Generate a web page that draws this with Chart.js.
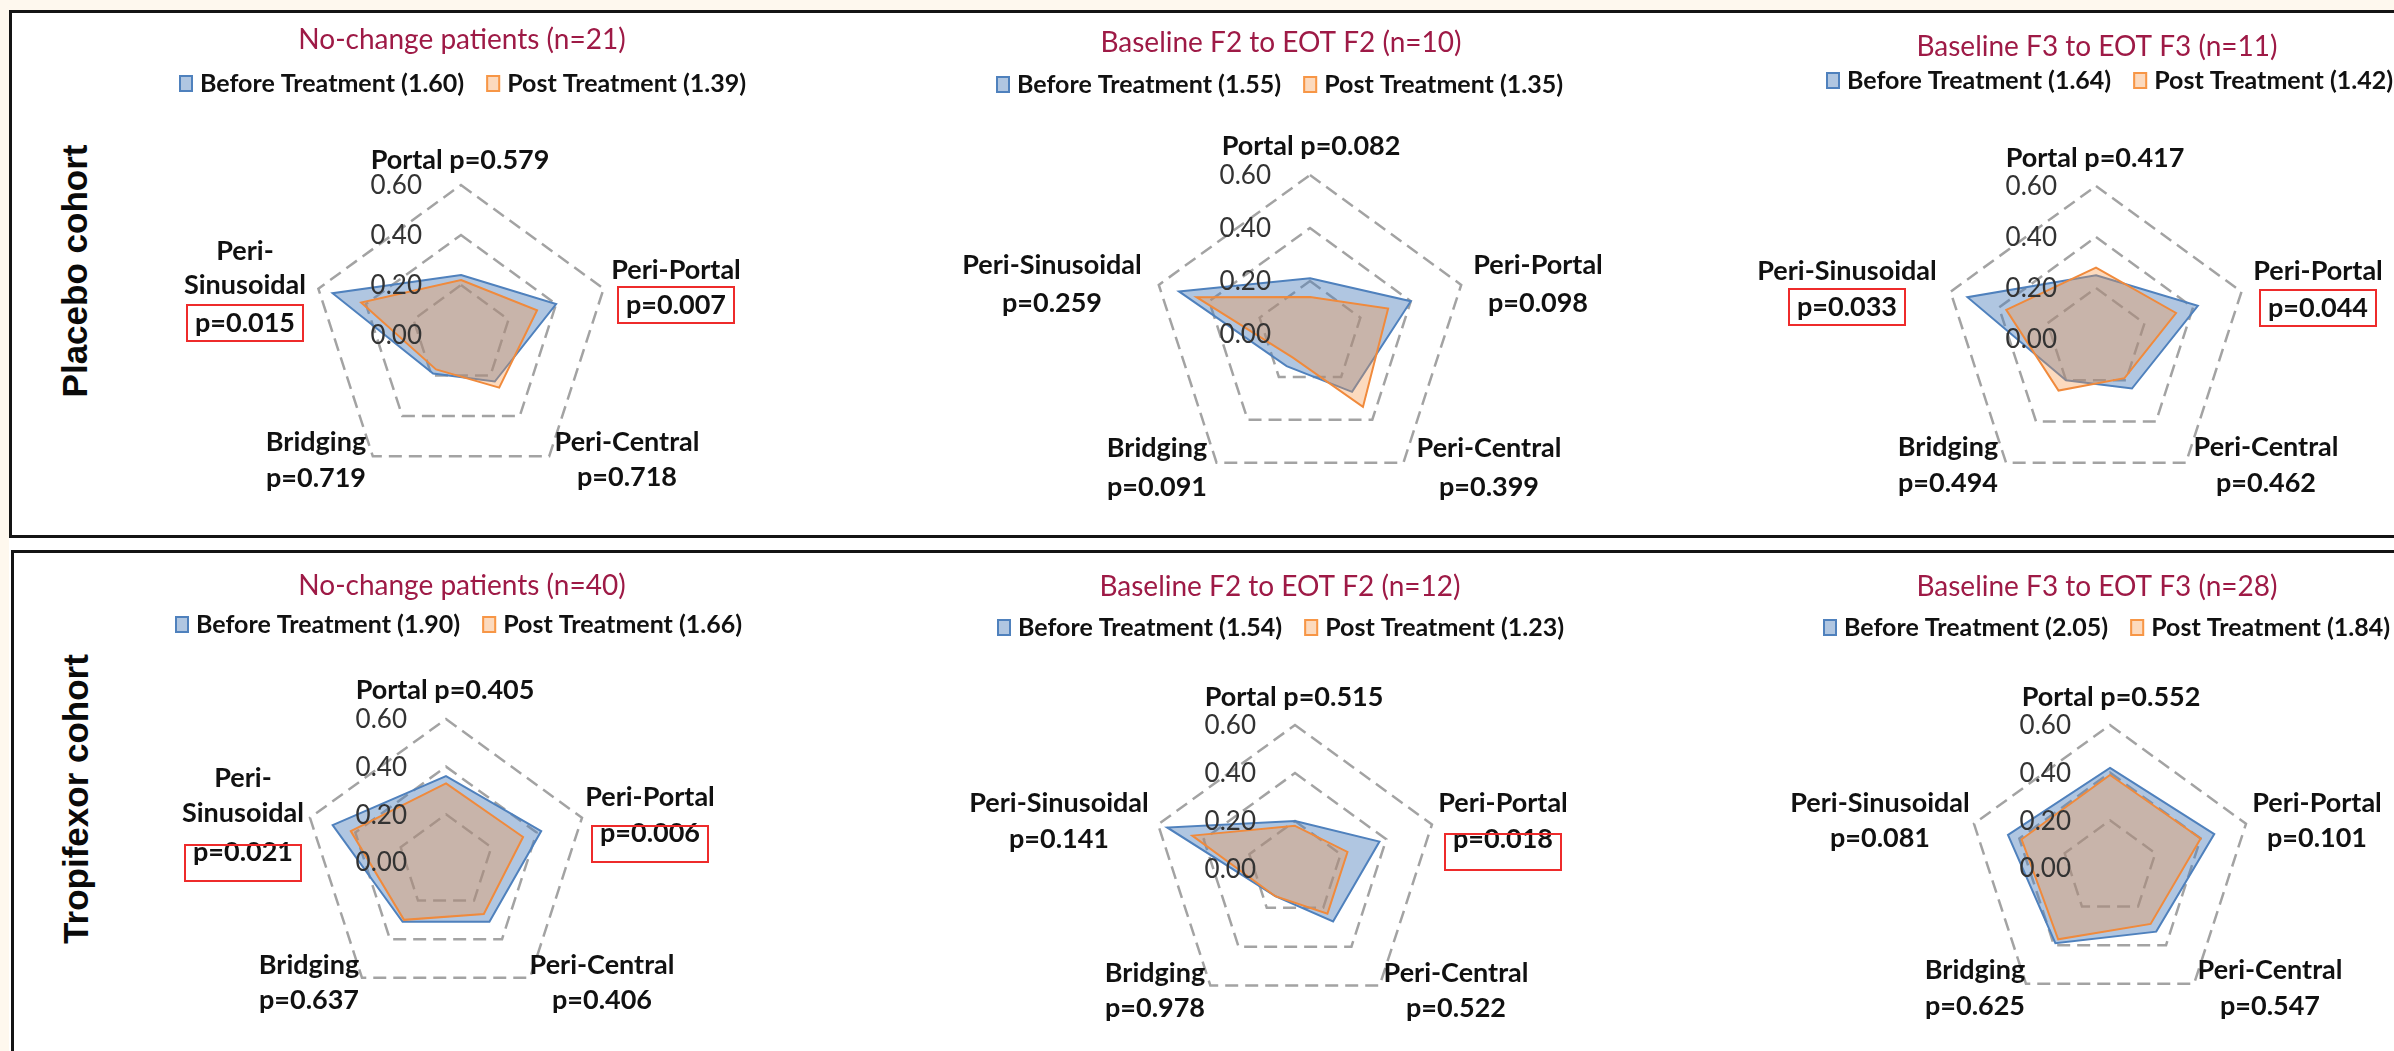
<!DOCTYPE html>
<html>
<head>
<meta charset="utf-8">
<script src="https://cdn.jsdelivr.net/npm/chart.js@4.4.0/dist/chart.umd.min.js"></script>
<style>
  html, body { margin: 0; padding: 0; width: 2394px; height: 1051px; overflow: hidden; background: #fef8ee; }
  #sheet { position: absolute; left: 9px; top: 10px; width: 2400px; height: 1100px; background: #ffffff; }
  .frame { position: absolute; border: 3px solid #141414; box-sizing: border-box; }
  #frameTop { left: 9px; top: 10px; width: 2500px; height: 528px; }
  #frameBottom { left: 11px; top: 550px; width: 2500px; height: 620px; }
  .cohort { position: absolute; font: bold 35px "Liberation Sans", Arial, sans-serif; color: #0a0a0a;
            white-space: nowrap; line-height: 1; transform: translate(-50%, -50%) rotate(-90deg); }
  canvas { position: absolute; }
</style>
</head>
<body>
<div id="sheet"></div>
<div class="frame" id="frameTop"></div>
<div class="frame" id="frameBottom"></div>
<div class="cohort" id="cohort0" style="left:74px; top:271px;"></div>
<div class="cohort" id="cohort1" style="left:75px; top:799px;"></div>

<script>
// Radar axes, clockwise from the top
const categories = ['Portal', 'Peri-Portal', 'Peri-Central', 'Bridging', 'Peri-Sinusoidal'];
const seriesNames = ['Before Treatment', 'Post Treatment'];
const cohortNames = ['Placebo cohort', 'Tropifexor cohort'];
const groupTitles = [
  'No-change patients (n=21)', 'Baseline F2 to EOT F2 (n=10)', 'Baseline F3 to EOT F3 (n=11)',
  'No-change patients (n=40)', 'Baseline F2 to EOT F2 (n=12)', 'Baseline F3 to EOT F3 (n=28)'
];
const radialTicks = [0, 0.2, 0.4, 0.6];

// Placebo cohort
const pboNoChangeBefore = [0.24, 0.40, 0.23, 0.19, 0.54];
const pboNoChangePost   = [0.22, 0.32, 0.26, 0.17, 0.42];
const pboNoChangeP      = ['0.579', '0.007', '0.718', '0.719', '0.015'];
const pboNoChangeTotals = ['1.60', '1.39'];

const pboF2Before = [0.21, 0.40, 0.27, 0.15, 0.52];
const pboF2Post   = [0.14, 0.31, 0.34, 0.11, 0.45];
const pboF2P      = ['0.082', '0.098', '0.399', '0.091', '0.259'];
const pboF2Totals = ['1.55', '1.35'];

const pboF3Before = [0.25, 0.42, 0.24, 0.20, 0.53];
const pboF3Post   = [0.28, 0.33, 0.19, 0.25, 0.37];
const pboF3P      = ['0.417', '0.044', '0.462', '0.494', '0.033'];
const pboF3Totals = ['1.64', '1.42'];

// Tropifexor cohort
const txfNoChangeBefore = [0.36, 0.42, 0.31, 0.31, 0.50];
const txfNoChangePost   = [0.33, 0.34, 0.27, 0.30, 0.42];
const txfNoChangeP      = ['0.405', '0.006', '0.406', '0.637', '0.021'];
const txfNoChangeTotals = ['1.90', '1.66'];

const txfF2Before = [0.20, 0.37, 0.27, 0.14, 0.56];
const txfF2Post   = [0.18, 0.23, 0.23, 0.14, 0.45];
const txfF2P      = ['0.515', '0.018', '0.522', '0.978', '0.141'];
const txfF2Totals = ['1.54', '1.23'];

const txfF3Before = [0.42, 0.46, 0.33, 0.39, 0.45];
const txfF3Post   = [0.39, 0.40, 0.29, 0.37, 0.39];
const txfF3P      = ['0.552', '0.101', '0.547', '0.625', '0.081'];
const txfF3Totals = ['2.05', '1.84'];

const significance = 0.05;

const panelSeries = [
  [pboNoChangeBefore, pboNoChangePost, pboNoChangeP, pboNoChangeTotals],
  [pboF2Before, pboF2Post, pboF2P, pboF2Totals],
  [pboF3Before, pboF3Post, pboF3P, pboF3Totals],
  [txfNoChangeBefore, txfNoChangePost, txfNoChangeP, txfNoChangeTotals],
  [txfF2Before, txfF2Post, txfF2P, txfF2Totals],
  [txfF3Before, txfF3Post, txfF3P, txfF3Totals]
];

// Page placement of each radar: canvas box, radar centre and radius, title and legend anchors,
// and axis-label anchors as [dx, [dy per line]] from the radar centre.
const panelLayout = [
  { canvas: [14, 13, 776, 522], center: [461, 335], radius: 150, title: [462, 40], legend: [179, 83], boxShift: 0, split: true,
    labels: [[-1, [-175]], [215, [-65, -30]], [166, [107, 142]], [-145, [107, 143]], [-216, [-84, -50, -12]]] },
  { canvas: [790, 13, 825, 522], center: [1310, 334], radius: 159, title: [1281, 43], legend: [996, 84], boxShift: 0, split: false,
    labels: [[1, [-188]], [228, [-69, -31]], [179, [114, 153]], [-153, [114, 153]], [-258, [-69, -31]]] },
  { canvas: [1615, 13, 779, 522], center: [2096, 339], radius: 153, title: [2097, 47], legend: [1826, 80], boxShift: 0, split: false,
    labels: [[-1, [-181]], [222, [-68, -31]], [170, [108, 144]], [-148, [108, 144]], [-249, [-68, -32]]] },
  { canvas: [14, 553, 776, 498], center: [446, 862], radius: 143, title: [462, 586], legend: [175, 624], boxShift: 11, split: true,
    labels: [[-1, [-172]], [204, [-65, -29]], [156, [103, 138]], [-137, [103, 138]], [-203, [-84, -49, -10]]] },
  { canvas: [790, 553, 825, 498], center: [1295, 869], radius: 144, title: [1280, 587], legend: [997, 627], boxShift: 13, split: false,
    labels: [[-1, [-172]], [208, [-66, -30]], [161, [104, 139]], [-140, [104, 139]], [-236, [-66, -30]]] },
  { canvas: [1615, 553, 779, 498], center: [2110, 868], radius: 143, title: [2097, 587], legend: [1823, 627], boxShift: 0, split: false,
    labels: [[1, [-171]], [207, [-65, -30]], [160, [102, 138]], [-135, [102, 138]], [-230, [-65, -30]]] }
];

const seriesStyle = [
  { fill: 'rgba(79, 129, 189, 0.45)', line: '#4f81bd', key: '#4f81bd' },
  { fill: 'rgba(247, 150, 70, 0.35)', line: '#f08a3c', key: '#f79646' }
];

const FONT = 'Lato, "Open Sans", sans-serif';

document.getElementById('cohort0').textContent = cohortNames[0];
document.getElementById('cohort1').textContent = cohortNames[1];

// Titles, legends, tick values and axis captions drawn around each radar
const radarDecor = {
  id: 'radarDecor',
  afterDatasetsDraw(chart) {
    const s = chart.scales.r;
    const ctx = chart.ctx;
    ctx.save();
    ctx.font = '26px ' + FONT;
    ctx.fillStyle = '#333333';
    ctx.textAlign = 'right';
    ctx.textBaseline = 'middle';
    s.ticks.forEach(t => {
      const d = s.getDistanceFromCenterForValue(t.value);
      ctx.fillText(Number(t.value).toFixed(2), s.xCenter - 39, s.yCenter - d + 1);
    });
    ctx.restore();
  },
  afterDraw(chart) {
    const cfg = chart.options.plugins.radarDecor;
    const L = cfg.layout;
    const ox = L.canvas[0], oy = L.canvas[1];
    const s = chart.scales.r;
    const ctx = chart.ctx;
    ctx.save();

    // title
    ctx.font = '28px ' + FONT;
    ctx.fillStyle = '#9e1a46';
    ctx.textAlign = 'center';
    ctx.textBaseline = 'middle';
    ctx.fillText(cfg.title, L.title[0] - ox, L.title[1] - oy);

    // legend
    ctx.font = 'bold 25px ' + FONT;
    ctx.textAlign = 'left';
    let lx = L.legend[0] - ox;
    const ly = L.legend[1] - oy;
    chart.data.datasets.forEach((ds, i) => {
      const st = seriesStyle[i];
      ctx.fillStyle = '#ffffff';
      ctx.fillRect(lx, ly - 8, 14, 17);
      ctx.fillStyle = st.fill;
      ctx.fillRect(lx, ly - 8, 14, 17);
      ctx.strokeStyle = st.key;
      ctx.lineWidth = 2;
      ctx.strokeRect(lx + 1, ly - 7, 12, 15);
      const txt = ds.label + ' (' + cfg.totals[i] + ')';
      ctx.fillStyle = '#111111';
      ctx.fillText(txt, lx + 21, ly + 1);
      lx += 21 + ctx.measureText(txt).width + 22;
    });

    // axis captions with p-values
    ctx.font = 'bold 27px ' + FONT;
    ctx.textAlign = 'center';
    chart.data.labels.forEach((name, i) => {
      const [dx, dys] = L.labels[i];
      const x = s.xCenter + dx;
      const pText = 'p=' + cfg.pValues[i];
      let lines;
      if (i === 0) lines = [name + ' ' + pText];
      else if (name === 'Peri-Sinusoidal' && L.split) lines = ['Peri-', 'Sinusoidal', pText];
      else lines = [name, pText];
      ctx.fillStyle = '#111111';
      lines.forEach((ln, k) => ctx.fillText(ln, x, s.yCenter + dys[k]));
      if (i > 0 && parseFloat(cfg.pValues[i]) < significance) {
        const py = s.yCenter + dys[lines.length - 1] + L.boxShift;
        ctx.strokeStyle = '#ee2b2b';
        ctx.lineWidth = 2;
        ctx.strokeRect(x - 58, py - 18, 116, 36);
      }
    });
    ctx.restore();
  }
};

panelLayout.forEach((L, idx) => {
  const [before, post, pValues, totals] = panelSeries[idx];
  const cv = document.createElement('canvas');
  const [left, top, w, h] = L.canvas;
  cv.width = w; cv.height = h;
  cv.style.left = left + 'px'; cv.style.top = top + 'px';
  cv.style.width = w + 'px'; cv.style.height = h + 'px';
  document.body.appendChild(cv);

  const lcx = L.center[0] - left, lcy = L.center[1] - top, R = L.radius;
  new Chart(cv.getContext('2d'), {
    type: 'radar',
    data: {
      labels: categories,
      datasets: [before, post].map((vals, i) => ({
        label: seriesNames[i],
        data: vals,
        order: i === 0 ? 1 : 0,
        fill: true,
        backgroundColor: seriesStyle[i].fill,
        borderColor: seriesStyle[i].line,
        borderWidth: 2,
        pointRadius: 0,
        pointHoverRadius: 0,
        tension: 0
      }))
    },
    options: {
      responsive: false,
      animation: false,
      devicePixelRatio: 1,
      events: [],
      layout: { padding: { left: lcx - R, top: lcy - R, right: w - lcx - R, bottom: h - lcy - R } },
      plugins: {
        legend: { display: false },
        title: { display: false },
        tooltip: { enabled: false },
        radarDecor: { layout: L, title: groupTitles[idx], pValues: pValues, totals: totals }
      },
      scales: {
        r: {
          min: radialTicks[0],
          max: radialTicks[radialTicks.length - 1],
          ticks: { display: false, stepSize: radialTicks[1] - radialTicks[0] },
          pointLabels: { display: false },
          angleLines: { display: false },
          grid: { circular: false, color: '#a3a3a3', lineWidth: 2.5 },
          border: { dash: [13, 7] }
        }
      }
    },
    plugins: [radarDecor]
  });
});
</script>
</body>
</html>
